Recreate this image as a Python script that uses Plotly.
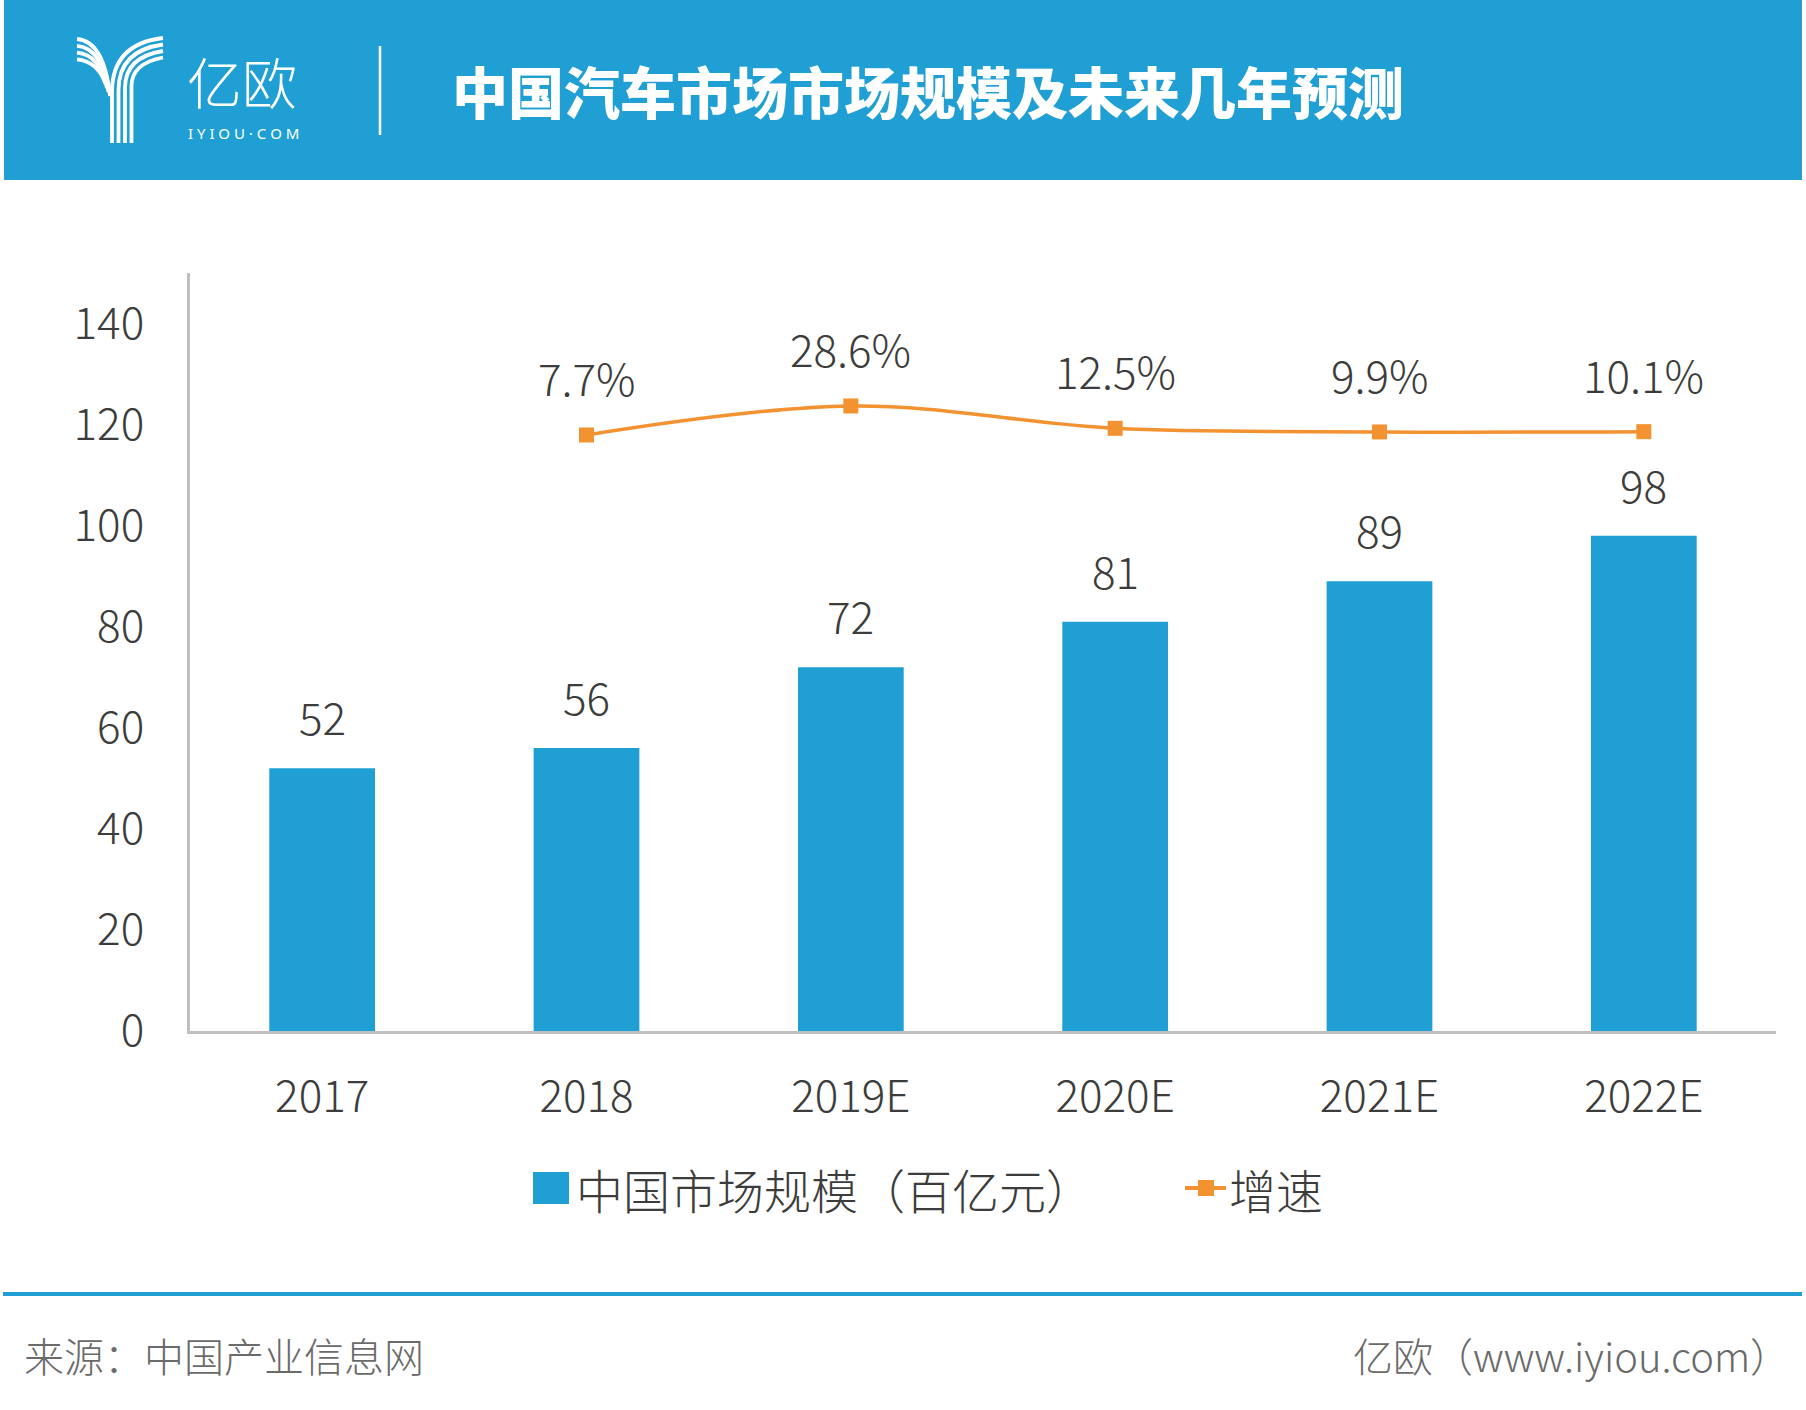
import plotly.graph_objects as go

W, H = 1806, 1410

# ---------------- data ----------------
categories = ["2017", "2018", "2019E", "2020E", "2021E", "2022E"]
market_size = [52, 56, 72, 81, 89, 98]            # 中国市场规模（百亿元）
growth_categories = ["2018", "2019E", "2020E", "2021E", "2022E"]
growth_rate = [7.7, 28.6, 12.5, 9.9, 10.1]         # 增速 (%)
y_ticks = [0, 20, 40, 60, 80, 100, 120, 140]

title_text = "中国汽车市场市场规模及未来几年预测"
bar_name = "中国市场规模（百亿元）"
line_name = "增速"
source_text = "来源：中国产业信息网"
credit_text = "亿欧（www.iyiou.com）"

# ---------------- style ----------------
BLUE = "#1F9FD4"
ORANGE = "#F39231"
TEXT = "#3C3C3C"
GREY = "#6A6A6A"
AXIS = "#BFBFBF"
FONT = "Noto Sans CJK SC"


def px(x):
    return x / W


def py(y):
    return 1 - y / H


fig = go.Figure()

fig.add_trace(go.Bar(
    x=categories, y=market_size, name=bar_name,
    marker=dict(color=BLUE, line=dict(width=0)),
    width=0.4, xaxis="x", yaxis="y", showlegend=False,
))

fig.add_trace(go.Scatter(
    x=growth_categories, y=growth_rate, name=line_name,
    mode="lines+markers",
    line=dict(color=ORANGE, width=3.5, shape="spline", smoothing=1),
    marker=dict(symbol="square", size=15, color=ORANGE),
    xaxis="x", yaxis="y2", showlegend=False,
))

annotations = []
# bar value labels (x given as category index)
for c, v in zip(categories, market_size):
    annotations.append(dict(
        x=categories.index(c), y=v, xref="x", yref="y", text=str(v), showarrow=False,
        yanchor="middle", yshift=52,
        font=dict(family=FONT, size=44, color=TEXT, weight=300)))
# growth labels
for c, v in zip(growth_categories, growth_rate):
    annotations.append(dict(
        x=categories.index(c), y=v, xref="x", yref="y2", text=f"{v}%", showarrow=False,
        yanchor="middle", yshift=58,
        font=dict(family=FONT, size=44, color=TEXT, weight=300)))

# header title
annotations.append(dict(
    x=px(450), y=py(90), xref="paper", yref="paper", xanchor="left", yanchor="middle",
    text=title_text, showarrow=False,
    font=dict(family=FONT, size=56, color="white", weight=900)))
# logo text
annotations.append(dict(
    x=px(242), y=py(80), xref="paper", yref="paper", xanchor="center", yanchor="middle",
    text="亿欧", showarrow=False,
    font=dict(family=FONT, size=55, color="white", weight=300)))
annotations.append(dict(
    x=px(243), y=py(133), xref="paper", yref="paper", xanchor="center", yanchor="middle",
    text="I Y I O U · C O M", showarrow=False,
    font=dict(family="Noto Sans", size=15, color="white")))

# legend (manual)
annotations.append(dict(
    x=px(574), y=py(1188), xref="paper", yref="paper", xanchor="left", yanchor="middle",
    text=bar_name, showarrow=False,
    font=dict(family=FONT, size=47, color=TEXT, weight=300)))
annotations.append(dict(
    x=px(1227), y=py(1188), xref="paper", yref="paper", xanchor="left", yanchor="middle",
    text=line_name, showarrow=False,
    font=dict(family=FONT, size=47, color=TEXT, weight=300)))

# footer
annotations.append(dict(
    x=px(22), y=py(1355), xref="paper", yref="paper", xanchor="left", yanchor="middle",
    text=source_text, showarrow=False,
    font=dict(family=FONT, size=40, color=GREY, weight=300)))
annotations.append(dict(
    x=px(1792), y=py(1355), xref="paper", yref="paper", xanchor="right", yanchor="middle",
    text=credit_text, showarrow=False,
    font=dict(family=FONT, size=40, color=GREY, weight=300)))

shapes = []
# header band
shapes.append(dict(type="rect", xref="paper", yref="paper",
                   x0=px(4), x1=px(1802), y0=py(180), y1=py(0),
                   fillcolor=BLUE, line=dict(width=0), layer="below"))
# divider
shapes.append(dict(type="line", xref="paper", yref="paper",
                   x0=px(380), x1=px(380), y0=py(46), y1=py(135),
                   line=dict(color="white", width=2.5)))


def path(points_cmds):
    out = []
    for cmd, pts in points_cmds:
        coords = " ".join(f"{px(x):.5f},{py(y):.5f}" for x, y in pts)
        out.append(f"{cmd} {coords}")
    return " ".join(out)


# Y logo: stem + right arm stripes
for i in range(4):
    sx = 112 + 6.5 * i
    ey = 38 + 6.5 * i
    p = path([("M", [(sx, 143)]), ("L", [(sx, 92 - 2 * i)]),
              ("Q", [(sx, ey + 6), (163, ey)])])
    shapes.append(dict(type="path", xref="paper", yref="paper", path=p,
                       line=dict(color="white", width=3.8)))
# left arm stripes
for j in range(4):
    ey = 39 + 6.8 * j
    p = path([("M", [(77, ey)]), ("Q", [(104 - 2 * j, ey + 2), (110 - 1.5 * j, 96 - 4 * j)])])
    shapes.append(dict(type="path", xref="paper", yref="paper", path=p,
                       line=dict(color="white", width=3.8)))

# legend symbols
shapes.append(dict(type="rect", xref="paper", yref="paper",
                   x0=px(533), x1=px(569), y0=py(1204), y1=py(1172),
                   fillcolor=BLUE, line=dict(width=0)))
shapes.append(dict(type="line", xref="paper", yref="paper",
                   x0=px(1185), x1=px(1226), y0=py(1188), y1=py(1188),
                   line=dict(color=ORANGE, width=4)))
shapes.append(dict(type="rect", xref="paper", yref="paper",
                   x0=px(1198), x1=px(1214), y0=py(1196), y1=py(1180),
                   fillcolor=ORANGE, line=dict(width=0)))

# footer rule
shapes.append(dict(type="rect", xref="paper", yref="paper",
                   x0=px(3), x1=px(1802), y0=py(1296), y1=py(1292),
                   fillcolor=BLUE, line=dict(width=0)))

fig.update_layout(
    width=W, height=H,
    margin=dict(l=0, r=0, t=0, b=0, pad=0, autoexpand=False),
    paper_bgcolor="white", plot_bgcolor="white",
    font=dict(family=FONT, color=TEXT),
    xaxis=dict(
        domain=[px(190), px(1776)], type="category",
        range=[-0.5, 5.5], showline=True, linecolor=AXIS, linewidth=3,
        showgrid=False, zeroline=False, ticks="", automargin=False,
        tickfont=dict(family=FONT, size=44, color=TEXT, weight=300),
        ticklabelstandoff=25,
    ),
    yaxis=dict(
        domain=[py(1031), py(273)], range=[0, 150],
        tickvals=y_ticks, showline=True, linecolor=AXIS, linewidth=3,
        showgrid=False, zeroline=False, ticks="", automargin=False,
        tickfont=dict(family=FONT, size=44, color=TEXT, weight=300),
        ticklabelstandoff=34,
    ),
    yaxis2=dict(
        overlaying="y", range=[-421.1, 124.25], visible=False,
    ),
    annotations=annotations,
    shapes=shapes,
    bargap=0.6,
)

fig.write_html(
    "out.html",
    config={"displayModeBar": False},
    post_script="document.body.style.margin='0';document.body.style.overflow='hidden';",
)
